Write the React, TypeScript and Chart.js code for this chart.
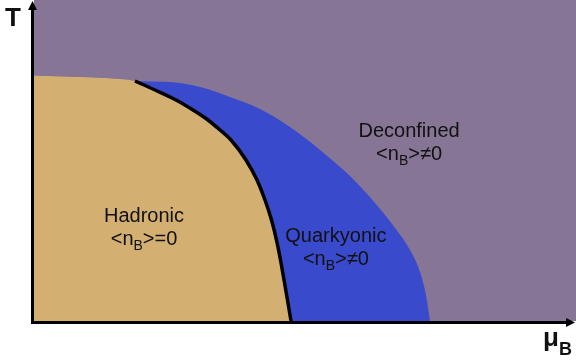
import React, { useEffect, useRef } from "react";
import { Chart, registerables } from "chart.js";

Chart.register(...registerables);

// Phase-diagram boundaries in (μB, T) units, both axes spanning 0..100.
const hadronicTop = [
  { x: 0, y: 76.5 },
  { x: 8.5, y: 76.0 },
  { x: 15.9, y: 75.4 },
];
const hadronicBoundary = [
  { x: 18.63, y: 74.77 },
  { x: 22.32, y: 71.96 },
  { x: 26.2, y: 68.85 },
  { x: 29.34, y: 65.73 },
  { x: 32.1, y: 62.62 },
  { x: 34.32, y: 59.5 },
  { x: 36.35, y: 56.39 },
  { x: 39.11, y: 50.16 },
  { x: 41.14, y: 43.93 },
  { x: 42.62, y: 37.69 },
  { x: 43.82, y: 31.46 },
  { x: 44.74, y: 25.23 },
  { x: 45.48, y: 19.0 },
  { x: 46.13, y: 12.77 },
  { x: 46.77, y: 6.54 },
  { x: 47.42, y: 0 },
];
const quarkyonicBoundary = [
  { x: 18.63, y: 74.77 },
  { x: 25.09, y: 74.45 },
  { x: 30.63, y: 72.9 },
  { x: 36.16, y: 69.78 },
  { x: 41.7, y: 66.04 },
  { x: 47.23, y: 60.4 },
  { x: 52.77, y: 53.27 },
  { x: 58.3, y: 45.17 },
  { x: 62.92, y: 36.76 },
  { x: 66.61, y: 28.97 },
  { x: 69.37, y: 22.12 },
  { x: 71.22, y: 15.26 },
  { x: 72.32, y: 8.1 },
  { x: 73.06, y: 0 },
];
const deconfinedTop = [
  { x: 0, y: 100 },
  { x: 100, y: 100 },
];

// Phase labels: name, density condition, anchor (μB, T) of the first baseline.
const phaseNames = ["Deconfined", "Hadronic", "Quarkyonic"];
const phaseRelations = ["≠0", "=0", "≠0"];
const phaseAnchors = [
  { x: 69.2, y: 57.3 },
  { x: 20.3, y: 30.7 },
  { x: 55.7, y: 24.6 },
];

const FONT = "'Liberation Sans', Arial, sans-serif";
const TEXT = "#111111";

function drawPieces(
  ctx: CanvasRenderingContext2D,
  pieces: { t: string; font: string; dy: number }[],
  cx: number,
  baseline: number
) {
  let total = 0;
  const widths = pieces.map((p) => {
    ctx.font = p.font;
    const w = ctx.measureText(p.t).width;
    total += w;
    return w;
  });
  let x = cx - total / 2;
  ctx.textAlign = "left";
  ctx.textBaseline = "alphabetic";
  pieces.forEach((p, i) => {
    ctx.font = p.font;
    ctx.fillText(p.t, x, baseline + p.dy);
    x += widths[i];
  });
}

const decorPlugin = {
  id: "phaseDecor",
  afterDraw(chart: any) {
    const { ctx, chartArea: a, scales } = chart;
    const xs = scales.x;
    const ys = scales.y;
    ctx.save();

    // axes with arrow heads
    ctx.strokeStyle = "#000";
    ctx.fillStyle = "#000";
    ctx.lineWidth = 3;
    const ax = a.left - 1.5;
    const ay = a.bottom + 1.5;
    ctx.beginPath();
    ctx.moveTo(ax, ay + 1.5);
    ctx.lineTo(ax, 8);
    ctx.moveTo(ax - 1.5, ay);
    ctx.lineTo(567, ay);
    ctx.stroke();
    ctx.beginPath();
    ctx.moveTo(ax, 1);
    ctx.lineTo(ax - 4.5, 10);
    ctx.lineTo(ax + 4.5, 10);
    ctx.closePath();
    ctx.fill();
    ctx.beginPath();
    ctx.moveTo(575, ay);
    ctx.lineTo(566, ay - 4.5);
    ctx.lineTo(566, ay + 4.5);
    ctx.closePath();
    ctx.fill();

    // axis titles
    ctx.fillStyle = TEXT;
    ctx.textAlign = "left";
    ctx.textBaseline = "alphabetic";
    ctx.font = `bold 26px ${FONT}`;
    ctx.fillText("T", 5, 26);
    ctx.font = `bold 26px ${FONT}`;
    ctx.fillText("μ", 543, 346);
    ctx.font = `bold 18px ${FONT}`;
    ctx.fillText("B", 559, 355);

    // phase labels
    phaseNames.forEach((name, i) => {
      const cx = xs.getPixelForValue(phaseAnchors[i].x);
      const by = ys.getPixelForValue(phaseAnchors[i].y);
      ctx.fillStyle = TEXT;
      ctx.font = `20px ${FONT}`;
      ctx.textAlign = "center";
      ctx.fillText(name, cx, by);
      drawPieces(
        ctx,
        [
          { t: "<n", font: `20px ${FONT}`, dy: 0 },
          { t: "B", font: `14px ${FONT}`, dy: 5 },
          { t: ">" + phaseRelations[i], font: `20px ${FONT}`, dy: 0 },
        ],
        cx,
        by + 22.5
      );
    });
    ctx.restore();
  },
};

export default function App() {
  const ref = useRef<HTMLCanvasElement | null>(null);

  useEffect(() => {
    if (!ref.current) return;
    const region = {
      type: "line" as const,
      pointRadius: 0,
      borderWidth: 0,
      fill: "origin",
      cubicInterpolationMode: "monotone" as const,
    };
    const chart = new Chart(ref.current, {
      type: "line",
      data: {
        datasets: [
          {
            label: "Boundary",
            data: hadronicBoundary,
            borderColor: "#000000",
            borderWidth: 3.5,
            pointRadius: 0,
            fill: false,
            cubicInterpolationMode: "monotone",
            order: 0,
          },
          {
            ...region,
            label: "Hadronic",
            data: [...hadronicTop, ...hadronicBoundary],
            backgroundColor: "#D3AF72",
            borderColor: "#D3AF72",
            order: 1,
          },
          {
            ...region,
            label: "Quarkyonic",
            data: [...hadronicTop, ...quarkyonicBoundary],
            backgroundColor: "#3A4ACC",
            borderColor: "#3A4ACC",
            order: 2,
          },
          {
            ...region,
            label: "Deconfined",
            data: deconfinedTop,
            backgroundColor: "#867594",
            borderColor: "#867594",
            cubicInterpolationMode: "default",
            order: 3,
          },
        ],
      } as any,
      options: {
        responsive: false,
        animation: false,
        devicePixelRatio: 1,
        layout: { padding: { left: 34, right: 0, top: 0, bottom: 42 } },
        scales: {
          x: { type: "linear", min: 0, max: 100, display: false },
          y: { type: "linear", min: 0, max: 100, display: false },
        },
        plugins: {
          legend: { display: false },
          tooltip: { enabled: false },
        },
      },
      plugins: [decorPlugin],
    });
    return () => chart.destroy();
  }, []);

  return (
    <div style={{ position: "fixed", left: 0, top: 0, width: 576, height: 363, background: "#fff" }}>
      <canvas ref={ref} width={576} height={363} style={{ display: "block" }} />
    </div>
  );
}
